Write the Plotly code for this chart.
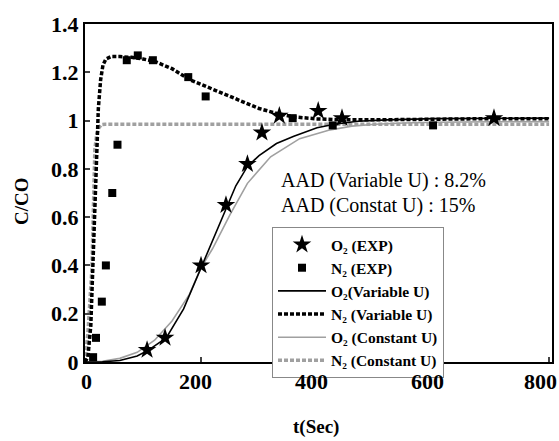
import plotly.graph_objects as go

# Experimental data
o2_exp_t = [107, 138, 200, 243, 280, 305, 335, 402, 443, 705]
o2_exp_c = [0.05, 0.10, 0.40, 0.65, 0.82, 0.95, 1.02, 1.04, 1.01, 1.01]
n2_exp_t = [14, 19, 29, 36, 47, 56, 72, 91, 117, 178, 208, 358, 427, 600]
n2_exp_c = [0.02, 0.10, 0.25, 0.40, 0.70, 0.90, 1.25, 1.27, 1.25, 1.18, 1.10, 1.01, 0.98, 0.98]

# Model curves
o2_var_t = [0, 30, 60, 90, 110, 140, 170, 200, 220, 240, 260, 280, 300, 330, 360, 400, 430, 470, 520, 600, 700, 800]
o2_var_c = [0, 0.001, 0.006, 0.025, 0.05, 0.10, 0.22, 0.39, 0.51, 0.62, 0.73, 0.81, 0.855, 0.905, 0.935, 0.97, 0.985, 0.997, 1.003, 1.008, 1.01, 1.01]
n2_var_t = [0, 5, 10, 15, 20, 23, 27, 31, 36, 45, 60, 80, 100, 120, 150, 180, 200, 230, 260, 300, 330, 360, 400, 450, 500, 600, 700, 800]
n2_var_c = [0, 0.02, 0.15, 0.5, 0.85, 1.05, 1.17, 1.23, 1.255, 1.265, 1.265, 1.262, 1.255, 1.245, 1.215, 1.17, 1.15, 1.12, 1.09, 1.05, 1.03, 1.015, 1.007, 1.003, 1.003, 1.006, 1.008, 1.008]
o2_con_t = [0, 30, 60, 90, 120, 150, 180, 200, 220, 250, 280, 320, 370, 420, 460, 500, 550, 600, 700, 800]
o2_con_c = [0, 0.003, 0.015, 0.04, 0.09, 0.17, 0.28, 0.39, 0.47, 0.61, 0.74, 0.85, 0.925, 0.96, 0.977, 0.985, 0.99, 0.993, 0.995, 0.995]
n2_con_t = [0, 5, 12, 14.5, 17, 20, 24, 28, 35, 800]
n2_con_c = [0, 0.12, 0.39, 0.67, 0.88, 0.94, 0.97, 0.983, 0.985, 0.985]

x_ticks = [0, 200, 400, 600, 800]
x_tick_text = ["0", "200", "400", "600", "800"]
y_ticks = [0, 0.2, 0.4, 0.6, 0.8, 1.0, 1.2, 1.4]
y_tick_text = ["0", "0.2", "0.4", "0.6", "0.8", "1", "1.2", "1.4"]

FONT = "Liberation Serif"

fig = go.Figure()
fig.add_trace(go.Scatter(x=o2_con_t, y=o2_con_c, mode="lines",
                         line=dict(color="#a0a0a0", width=1.6),
                         name="<b>O₂ (Constant U)</b>", legendrank=5))
fig.add_trace(go.Scatter(x=n2_con_t, y=n2_con_c, mode="lines",
                         line=dict(color="#a0a0a0", width=3.5, dash="4px,2px"),
                         name="<b>N₂ (Constant U)</b>", legendrank=6))
fig.add_trace(go.Scatter(x=o2_var_t, y=o2_var_c, mode="lines",
                         line=dict(color="black", width=1.6),
                         name="<b>O₂(Variable U)</b>", legendrank=3))
fig.add_trace(go.Scatter(x=n2_var_t, y=n2_var_c, mode="lines",
                         line=dict(color="black", width=3.5, dash="4px,2px"),
                         name="<b>N₂ (Variable U)</b>", legendrank=4))
fig.add_trace(go.Scatter(x=o2_exp_t, y=o2_exp_c, mode="markers",
                         marker=dict(symbol="star", size=14, color="black"),
                         name="<b>O₂ (EXP)</b>", legendrank=1))
fig.add_trace(go.Scatter(x=n2_exp_t, y=n2_exp_c, mode="markers",
                         marker=dict(symbol="square", size=8, color="black"),
                         name="<b>N₂ (EXP)</b>", legendrank=2))

W, H = 559, 441
L, R, T, B = 85, 7, 24, 79
pw, ph = W - L - R, H - T - B

def px(x):
    return (x - L) / pw

def py(y):
    return 1 - (y - T) / ph

# x tick labels placed on the x scale, nudged left like the reference
for i, (tv, tt) in enumerate(zip(x_ticks, x_tick_text)):
    shift = 1 if i == 0 else (-9 if i == len(x_ticks) - 1 else -6)
    fig.add_annotation(x=tv, y=py(381), xref="x", yref="paper", text=f"<b>{tt}</b>",
                       showarrow=False, xanchor="center", yanchor="middle", xshift=shift,
                       font=dict(family=FONT, size=22, color="black"))

fig.add_annotation(x=px(279), y=py(180), xref="paper", yref="paper", text="AAD (Variable U) : 8.2%",
                   showarrow=False, xanchor="left", yanchor="middle",
                   font=dict(family=FONT, size=20, color="black"))
fig.add_annotation(x=px(279), y=py(205), xref="paper", yref="paper", text="AAD (Constat U) : 15%",
                   showarrow=False, xanchor="left", yanchor="middle",
                   font=dict(family=FONT, size=20, color="black"))
fig.add_annotation(x=px(21), y=py(201), xref="paper", yref="paper", text="<b>C/CO</b>",
                   showarrow=False, xanchor="center", yanchor="middle", textangle=-90,
                   font=dict(family=FONT, size=19, color="black"))
fig.add_annotation(x=px(316), y=py(427), xref="paper", yref="paper", text="<b>t(Sec)</b>",
                   showarrow=False, xanchor="center", yanchor="middle",
                   font=dict(family=FONT, size=19, color="black"))

fig.update_layout(
    width=W, height=H,
    margin=dict(l=L, r=R, t=T, b=B, autoexpand=False),
    plot_bgcolor="white", paper_bgcolor="white",
    font=dict(family=FONT, color="black"),
    showlegend=True,
    legend=dict(x=px(272), y=py(227), xanchor="left", yanchor="top",
                bgcolor="white", bordercolor="#888888", borderwidth=1,
                font=dict(family=FONT, size=15.5, color="black"),
                itemwidth=48, tracegroupgap=0),
    xaxis=dict(range=[0, 805], tickvals=x_ticks, ticks="inside", showticklabels=False,
               ticklen=5, tickwidth=1.5,
               showline=True, linecolor="black", linewidth=2, mirror=True, showgrid=False,
               zeroline=False, automargin=False),
    yaxis=dict(range=[0, 1.4], tickvals=y_ticks, ticktext=y_tick_text, ticks="inside",
               ticklen=5, tickwidth=1.5,
               showline=True, linecolor="black", linewidth=2, mirror=True, showgrid=False,
               zeroline=False, automargin=False, ticklabeloverflow="allow",
               tickfont=dict(family=FONT, size=22, color="black", weight="bold")),
)

fig.write_html("out.html", config={"displayModeBar": False},
               post_script="document.body.style.margin='0px';document.body.style.overflow='hidden';")
